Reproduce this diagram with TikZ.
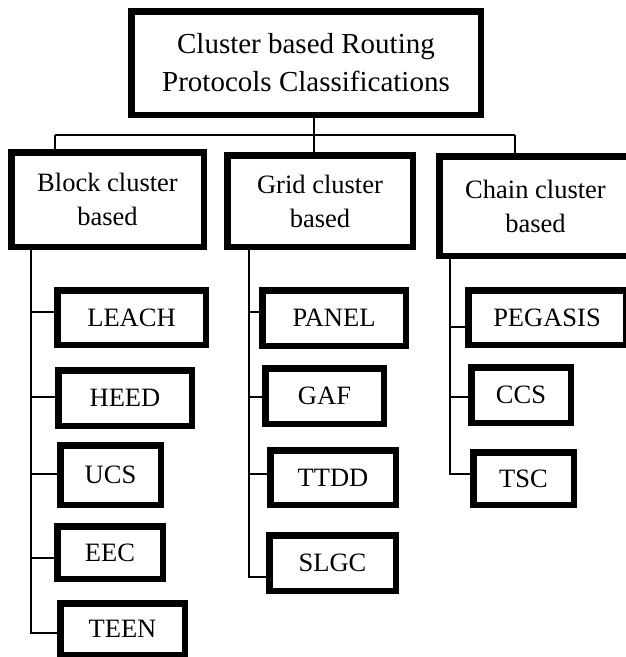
\documentclass[tikz,border=0pt]{standalone}
\usepackage{fontspec}
\setmainfont{Liberation Serif}

\begin{document}
\begin{tikzpicture}[x=1pt, y=-1pt,
		main/.style = {draw, rectangle, line width=6.5pt, inner sep=0pt, align=center},
		top/.style = {main, font=\fontsize{29}{38}\selectfont},
		mid/.style = {main, font=\fontsize{26.5}{34}\selectfont},
		leaf/.style = {main, font=\fontsize{26.5}{32}\selectfont},
		link/.style = {draw, line width=1.3pt}]
		\useasboundingbox (0,0) rectangle (626,657);
		\node[top, minimum width=349.5pt, minimum height=103.5pt] (1) at (306,63) {Cluster based Routing\\Protocols Classifications};
		\node[mid, minimum width=192.5pt, minimum height=94.5pt] (2) at (107.5,199.5) {Block cluster\\based};
		\node[mid, minimum width=185.5pt, minimum height=91.5pt] (3) at (320,201) {Grid cluster\\based};
		\node[mid, minimum width=192.5pt, minimum height=99.5pt] (4) at (535.5,206) {Chain cluster\\based};
		\node[leaf, minimum width=148.5pt, minimum height=54.5pt] (5) at (131.5,317.5) {LEACH};
		\node[leaf, minimum width=133.5pt, minimum height=55.5pt] (6) at (125,398) {HEED};
		\node[leaf, minimum width=100.5pt, minimum height=59.5pt] (7) at (110.5,475) {UCS};
		\node[leaf, minimum width=105.5pt, minimum height=52.5pt] (8) at (110,552.5) {EEC};
		\node[leaf, minimum width=124.5pt, minimum height=51.5pt] (9) at (122.5,629) {TEEN};
		\node[leaf, minimum width=143.5pt, minimum height=55.5pt] (10) at (334,318) {PANEL};
		\node[leaf, minimum width=118.5pt, minimum height=55.5pt] (11) at (324.5,396) {GAF};
		\node[leaf, minimum width=125.5pt, minimum height=54.5pt] (12) at (333,477.5) {TTDD};
		\node[leaf, minimum width=126.5pt, minimum height=55.5pt] (13) at (332.5,563) {SLGC};
		\node[leaf, minimum width=157.5pt, minimum height=54.5pt] (14) at (547,317.5) {PEGASIS};
		\node[leaf, minimum width=99.5pt, minimum height=55.5pt] (15) at (521,395) {CCS};
		\node[leaf, minimum width=100.5pt, minimum height=52.5pt] (16) at (523.5,478.5) {TSC};
		% bus under the root box
		\coordinate (bl) at (55,135);
		\coordinate (bm) at (314,135);
		\coordinate (br) at (515,135);
		\draw[link] (bm |- 1.south) -- (bm |- 3.north);
		\draw[link] (bl) -- (br);
		\draw[link] (bl) -- (bl |- 2.north);
		\draw[link] (br) -- (br |- 4.north);
		% trunks down each column
		\coordinate (t1) at (31,0);
		\coordinate (t2) at (249,0);
		\coordinate (t3) at (450,0);
		\draw[link] (t1 |- 2.south) |- ([yshift=5.5pt]5.west);
		\draw[link] (t1 |- 2.south) |- ([yshift=1pt]6.west);
		\draw[link] (t1 |- 2.south) |- ([yshift=1pt]7.west);
		\draw[link] (t1 |- 2.south) |- ([yshift=-5.5pt]8.west);
		\draw[link] (t1 |- 2.south) |- ([yshift=-4pt]9.west);
		\draw[link] (t2 |- 3.south) |- ([yshift=6pt]10.west);
		\draw[link] (t2 |- 3.south) |- ([yshift=-1pt]11.west);
		\draw[link] (t2 |- 3.south) |- ([yshift=3.5pt]12.west);
		\draw[link] (t2 |- 3.south) |- ([yshift=-14pt]13.west);
		\draw[link] (t3 |- 4.south) |- ([yshift=-9.5pt]14.west);
		\draw[link] (t3 |- 4.south) |- ([yshift=-2pt]15.west);
		\draw[link] (t3 |- 4.south) |- ([yshift=4.5pt]16.west);
	\end{tikzpicture}
\end{document}
